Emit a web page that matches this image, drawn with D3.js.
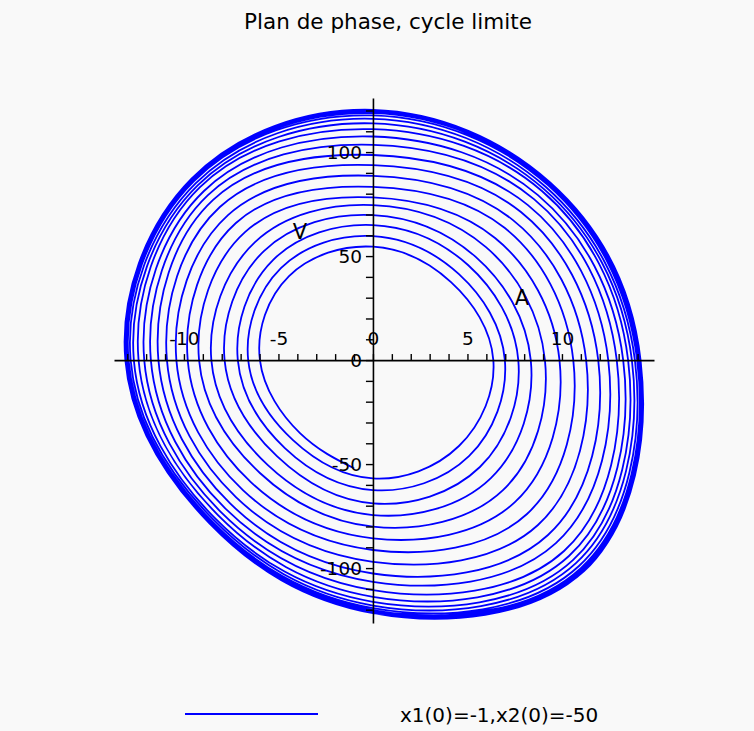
<!DOCTYPE html>
<html>
<head>
<meta charset="utf-8">
<script src="https://cdn.jsdelivr.net/npm/d3@7"></script>
<style>
  html, body { margin: 0; padding: 0; background: #f9f9f9; }
  svg { display: block; }
  text { font-family: "DejaVu Sans", sans-serif; fill: #000; }
</style>
</head>
<body>
<svg id="chart" width="754" height="731"></svg>
<script>
// ---- Data ----
const title = "Plan de phase, cycle limite";
const legendLabel = "x1(0)=-1,x2(0)=-50";

// start of the trajectory (x, y)
const startPoint = [-1, -52];

// axis crossings for each turn of the spiral (clockwise: bottom -> left -> top -> right)
const leftX = [-5.98, -6.6, -7.15, -7.85, -8.55, -9.2, -9.8, -10.4, -10.9, -11.35, -11.75, -12.1, -12.4, -12.65, -12.82, -12.93, -13.0, -13.04, -13.07, -13.09, -13.1];
const topY = [54.5, 59.6, 64.9, 69.7, 74.5, 78.2, 83.3, 88.6, 93.7, 98.6, 103.5, 107.5, 111, 113.8, 116, 117.6, 118.7, 119.4, 119.8, 120.1, 120.3];
const rightX = [6.37, 6.98, 7.69, 8.35, 9.1, 9.87, 10.6, 11.28, 11.92, 12.45, 12.9, 13.24, 13.5, 13.7, 13.86, 13.98, 14.05, 14.1, 14.13, 14.15, 14.16];
const bottomY = [-56.9, -62.5, -68.9, -74.5, -80.1, -85.7, -91.3, -97, -102.6, -106.6, -110.6, -113.8, -116.2, -118, -119.3, -120.2, -120.8, -121.2, -121.5, -121.7, -121.8];

// diagonal points of each turn (x, y)
const swPts = [[-3.86,-35.1],[-4.23,-38.5],[-4.66,-42.3],[-5.08,-46.2],[-5.56,-50.5],[-5.98,-54.3],[-6.46,-58.7],[-6.88,-62.5],[-7.25,-65.9],[-7.57,-68.8],[-7.83,-71.2],[-8.04,-73.1],[-8.2,-74.5],[-8.36,-76.0],[-8.44,-76.7],[-8.52,-77.4],[-8.57,-77.9],[-8.6,-78.1],[-8.62,-78.4],[-8.63,-78.5],[-8.64,-78.6]];
const nwPts = [[-4.44,40.4],[-4.87,44.2],[-5.29,48.1],[-5.77,52.4],[-6.24,56.7],[-6.77,61.5],[-7.25,65.9],[-7.67,69.7],[-8.1,73.6],[-8.47,76.9],[-8.73,79.3],[-8.94,81.3],[-9.15,83.2],[-9.26,84.1],[-9.37,85.1],[-9.47,86.1],[-9.52,86.5],[-9.55,86.8],[-9.58,87.0],[-9.59,87.1],[-9.6,87.2]];
const nePts = [[4.13,37.5],[4.55,41.3],[5.03,45.7],[5.45,49.5],[5.98,54.3],[6.46,58.7],[6.98,63.5],[7.41,67.3],[7.83,71.2],[8.2,74.5],[8.52,77.4],[8.73,79.3],[8.94,81.3],[9.05,82.2],[9.15,83.2],[9.26,84.1],[9.31,84.6],[9.34,84.9],[9.37,85.1],[9.38,85.2],[9.39,85.3]];
const sePts = [[4.55,-41.3],[5.08,-46.2],[5.66,-51.4],[6.24,-56.7],[6.88,-62.5],[7.51,-68.3],[8.15,-74.0],[8.73,-79.3],[9.26,-84.1],[9.68,-88.0],[10.11,-91.8],[10.37,-94.2],[10.58,-96.2],[10.74,-97.6],[10.9,-99.0],[11.0,-100.0],[11.06,-100.5],[11.11,-101.0],[11.14,-101.2],[11.16,-101.4],[11.17,-101.5]];

// axes
const xDomain = [-13.7, 14.87];
const yDomain = [-126.4, 126];
const xTickValues = [-13,-12,-11,-10,-9,-8,-7,-6,-5,-4,-3,-2,-1,0,1,2,3,4,5,6,7,8,9,10,11,12,13,14];
const xTickLabels = [-10, -5, 0, 5, 10];
const yTickValues = [-120,-110,-100,-90,-80,-70,-60,-50,-40,-30,-20,-10,0,10,20,30,40,50,60,70,80,90,100,110,120];
const yTickLabels = [-100, -50, 0, 50, 100];

// text marks placed in the plot
const annotations = [{t: "V", x: -3.86, y: 62}, {t: "A", x: 7.88, y: 30.3}];

// ---- Drawing ----
const svg = d3.select("#chart");
const x = d3.scaleLinear().domain(xDomain).range([114, 654]);
const y = d3.scaleLinear().domain(yDomain).range([623, 98]);

svg.append("text").attr("x", 388).attr("y", 29).attr("text-anchor", "middle")
  .style("font-size", "21.5px").text(title);

// spiral points
const pts = [startPoint];
for (let i = 0; i < leftX.length; i++) {
  pts.push(swPts[i]);
  pts.push([leftX[i], 0]);
  pts.push(nwPts[i]);
  pts.push([0, topY[i]]);
  pts.push(nePts[i]);
  pts.push([rightX[i], 0]);
  pts.push(sePts[i]);
  pts.push([0, bottomY[i]]);
}

const line = d3.line().x(d => x(d[0])).y(d => y(d[1])).curve(d3.curveNatural);
svg.append("path").datum(pts).attr("d", line)
  .attr("fill", "none").attr("stroke", "#0000ff").attr("stroke-width", 1.8);

// axes
const xAxis = d3.axisTop(x).tickValues(xTickValues).tickSize(6).tickSizeOuter(0).tickPadding(9)
  .tickFormat(d => xTickLabels.includes(d) ? String(d) : "");
const gx = svg.append("g").attr("transform", `translate(0,${y(0)})`).call(xAxis);

const yAxis = d3.axisLeft(y).tickValues(yTickValues).tickSize(7).tickSizeOuter(0).tickPadding(4)
  .tickFormat(d => yTickLabels.includes(d) ? String(d) : "");
const gy = svg.append("g").attr("transform", `translate(${x(0)},0)`).call(yAxis);

[gx, gy].forEach(g => {
  g.select(".domain").attr("stroke", "#000").attr("stroke-width", 1.6);
  g.selectAll(".tick line").attr("stroke", "#000").attr("stroke-width", 1.4);
  g.selectAll(".tick text").style("font-size", "18.5px").attr("fill", "#000")
    .style("font-family", "'DejaVu Sans', sans-serif");
});

svg.selectAll("text.ann").data(annotations).join("text").attr("class", "ann")
  .attr("x", d => x(d.x)).attr("y", d => y(d.y)).attr("dy", "0.36em")
  .attr("text-anchor", "middle").style("font-size", "21px").text(d => d.t);

// legend
svg.append("line").attr("x1", 185).attr("x2", 318).attr("y1", 714).attr("y2", 714)
  .attr("stroke", "#0000ff").attr("stroke-width", 2);
svg.append("text").attr("x", 400).attr("y", 722).style("font-size", "20px").text(legendLabel);
</script>
</body>
</html>
